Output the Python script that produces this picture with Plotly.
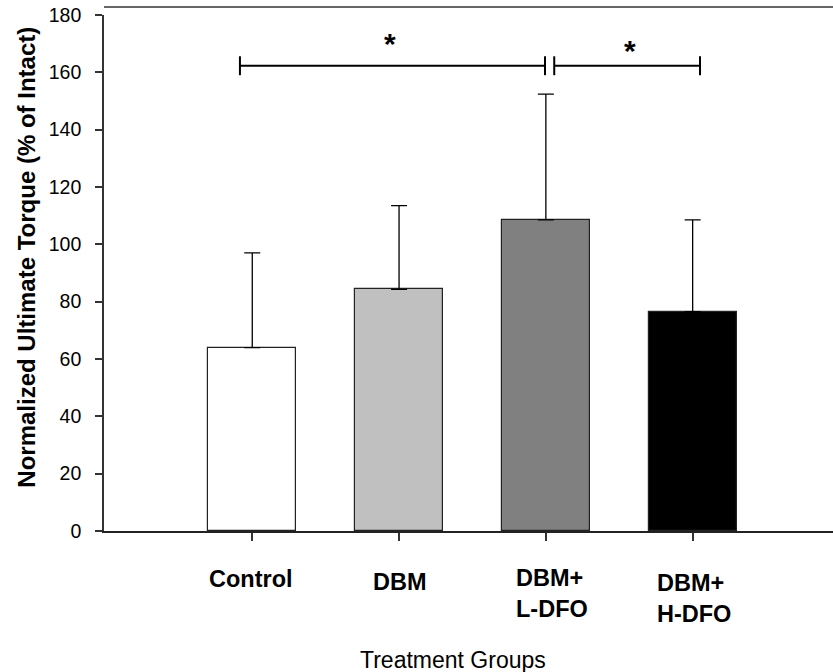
import plotly.graph_objects as go

# ---- data ----
categories = ["Control", "DBM", "DBM+<br>L-DFO", "DBM+<br>H-DFO"]
means = [64.0, 84.3, 108.5, 76.5]
sd_upper = [33.0, 29.2, 43.9, 32.0]
bar_colors = ["#ffffff", "#c0c0c0", "#808080", "#000000"]
y_ticks = [0, 20, 40, 60, 80, 100, 120, 140, 160, 180]
sig_pairs = [(0, 2), (2, 3)]
sig_level = 162.3
sig_labels = ["*", "*"]

# ---- layout geometry (pixels) ----
W, H = 833, 672
L, R, T, B = 104, 0, 15.3, 140.7
plot_h = H - T - B
FONT = "Liberation Sans, Arial, sans-serif"


def py(pix):
    """pixel row -> paper y"""
    return 1 - (pix - T) / plot_h


x_idx = list(range(len(categories)))

fig = go.Figure()
fig.add_trace(go.Bar(
    x=x_idx, y=means, width=0.6,
    marker=dict(color=bar_colors, line=dict(color="#222222", width=1.2)),
    error_y=dict(type="data", array=sd_upper, arrayminus=[0] * len(sd_upper),
                 symmetric=False, color="#000000", thickness=1.3, width=8),
    showlegend=False, hoverinfo="skip",
))

# significance brackets
offsets = [(-0.084, -0.006), (0.057, 0.05)]
cap = 3.3
for (a, b), (oa, ob) in zip(sig_pairs, offsets):
    x0, x1 = a + oa, b + ob
    fig.add_shape(type="line", x0=x0, x1=x1, y0=sig_level, y1=sig_level,
                  line=dict(color="black", width=2))
    for xx in (x0, x1):
        fig.add_shape(type="line", x0=xx, x1=xx, y0=sig_level - cap, y1=sig_level + cap,
                      line=dict(color="black", width=2))

star_pos = [(0.938, 170.2), (2.57, 167.6)]
for (sx, sy), lab in zip(star_pos, sig_labels):
    fig.add_annotation(x=sx, y=sy, text=f"<b>{lab}</b>", showarrow=False,
                       xanchor="center", yanchor="middle",
                       font=dict(family=FONT, size=30, color="black"))

# top frame line
fig.add_shape(type="line", xref="paper", yref="paper", x0=0, x1=1,
              y0=py(7.3), y1=py(7.3), line=dict(color="#333333", width=1.6))

# category labels
label_specs = [
    dict(xanchor="center", xshift=-1, top=564),
    dict(xanchor="center", xshift=1, top=567),
    dict(xanchor="left", xshift=-32, top=563),
    dict(xanchor="left", xshift=-38, top=568),
]
for i, (cat, spec) in enumerate(zip(categories, label_specs)):
    fig.add_annotation(x=i, xref="x", y=py(spec["top"]), yref="paper",
                       text=f"<b>{cat}</b>", showarrow=False, align="left",
                       xanchor=spec["xanchor"], yanchor="top", xshift=spec["xshift"],
                       font=dict(family=FONT, size=23.5, color="black"))

# axis titles
fig.add_annotation(x=(453 - L) / (W - L - R), xref="paper", y=py(645), yref="paper",
                   text="Treatment Groups", showarrow=False, xanchor="center", yanchor="top",
                   font=dict(family=FONT, size=23, color="black"))
fig.add_annotation(x=(27 - L) / (W - L - R), xref="paper", y=py(258), yref="paper",
                   text="<b>Normalized Ultimate Torque (% of Intact)</b>", showarrow=False,
                   textangle=-90, xanchor="center", yanchor="middle",
                   font=dict(family=FONT, size=24, color="black"))

fig.update_layout(
    width=W, height=H,
    margin=dict(l=L, r=R, t=T, b=B, pad=0),
    paper_bgcolor="white", plot_bgcolor="white",
    font=dict(family=FONT, color="black"),
    bargap=0,
)
fig.update_xaxes(
    range=[-1.01, 3.956], tickvals=x_idx, showticklabels=False,
    ticks="outside", ticklen=8, tickwidth=1.5, tickcolor="#333333",
    showline=True, linecolor="#222222", linewidth=1.6,
    showgrid=False, zeroline=False,
)
fig.update_yaxes(
    range=[0, 180], tickvals=y_ticks, ticks="outside", ticklen=7, tickwidth=1.5,
    tickcolor="#333333", showline=True, linecolor="#333333", linewidth=1.6,
    showgrid=False, zeroline=False, ticklabelstandoff=10,
    tickfont=dict(family=FONT, size=19.5, color="black"),
)

fig.write_html("out.html", config={"displayModeBar": False},
               post_script="document.body.style.margin='0';document.body.style.overflow='hidden';")
